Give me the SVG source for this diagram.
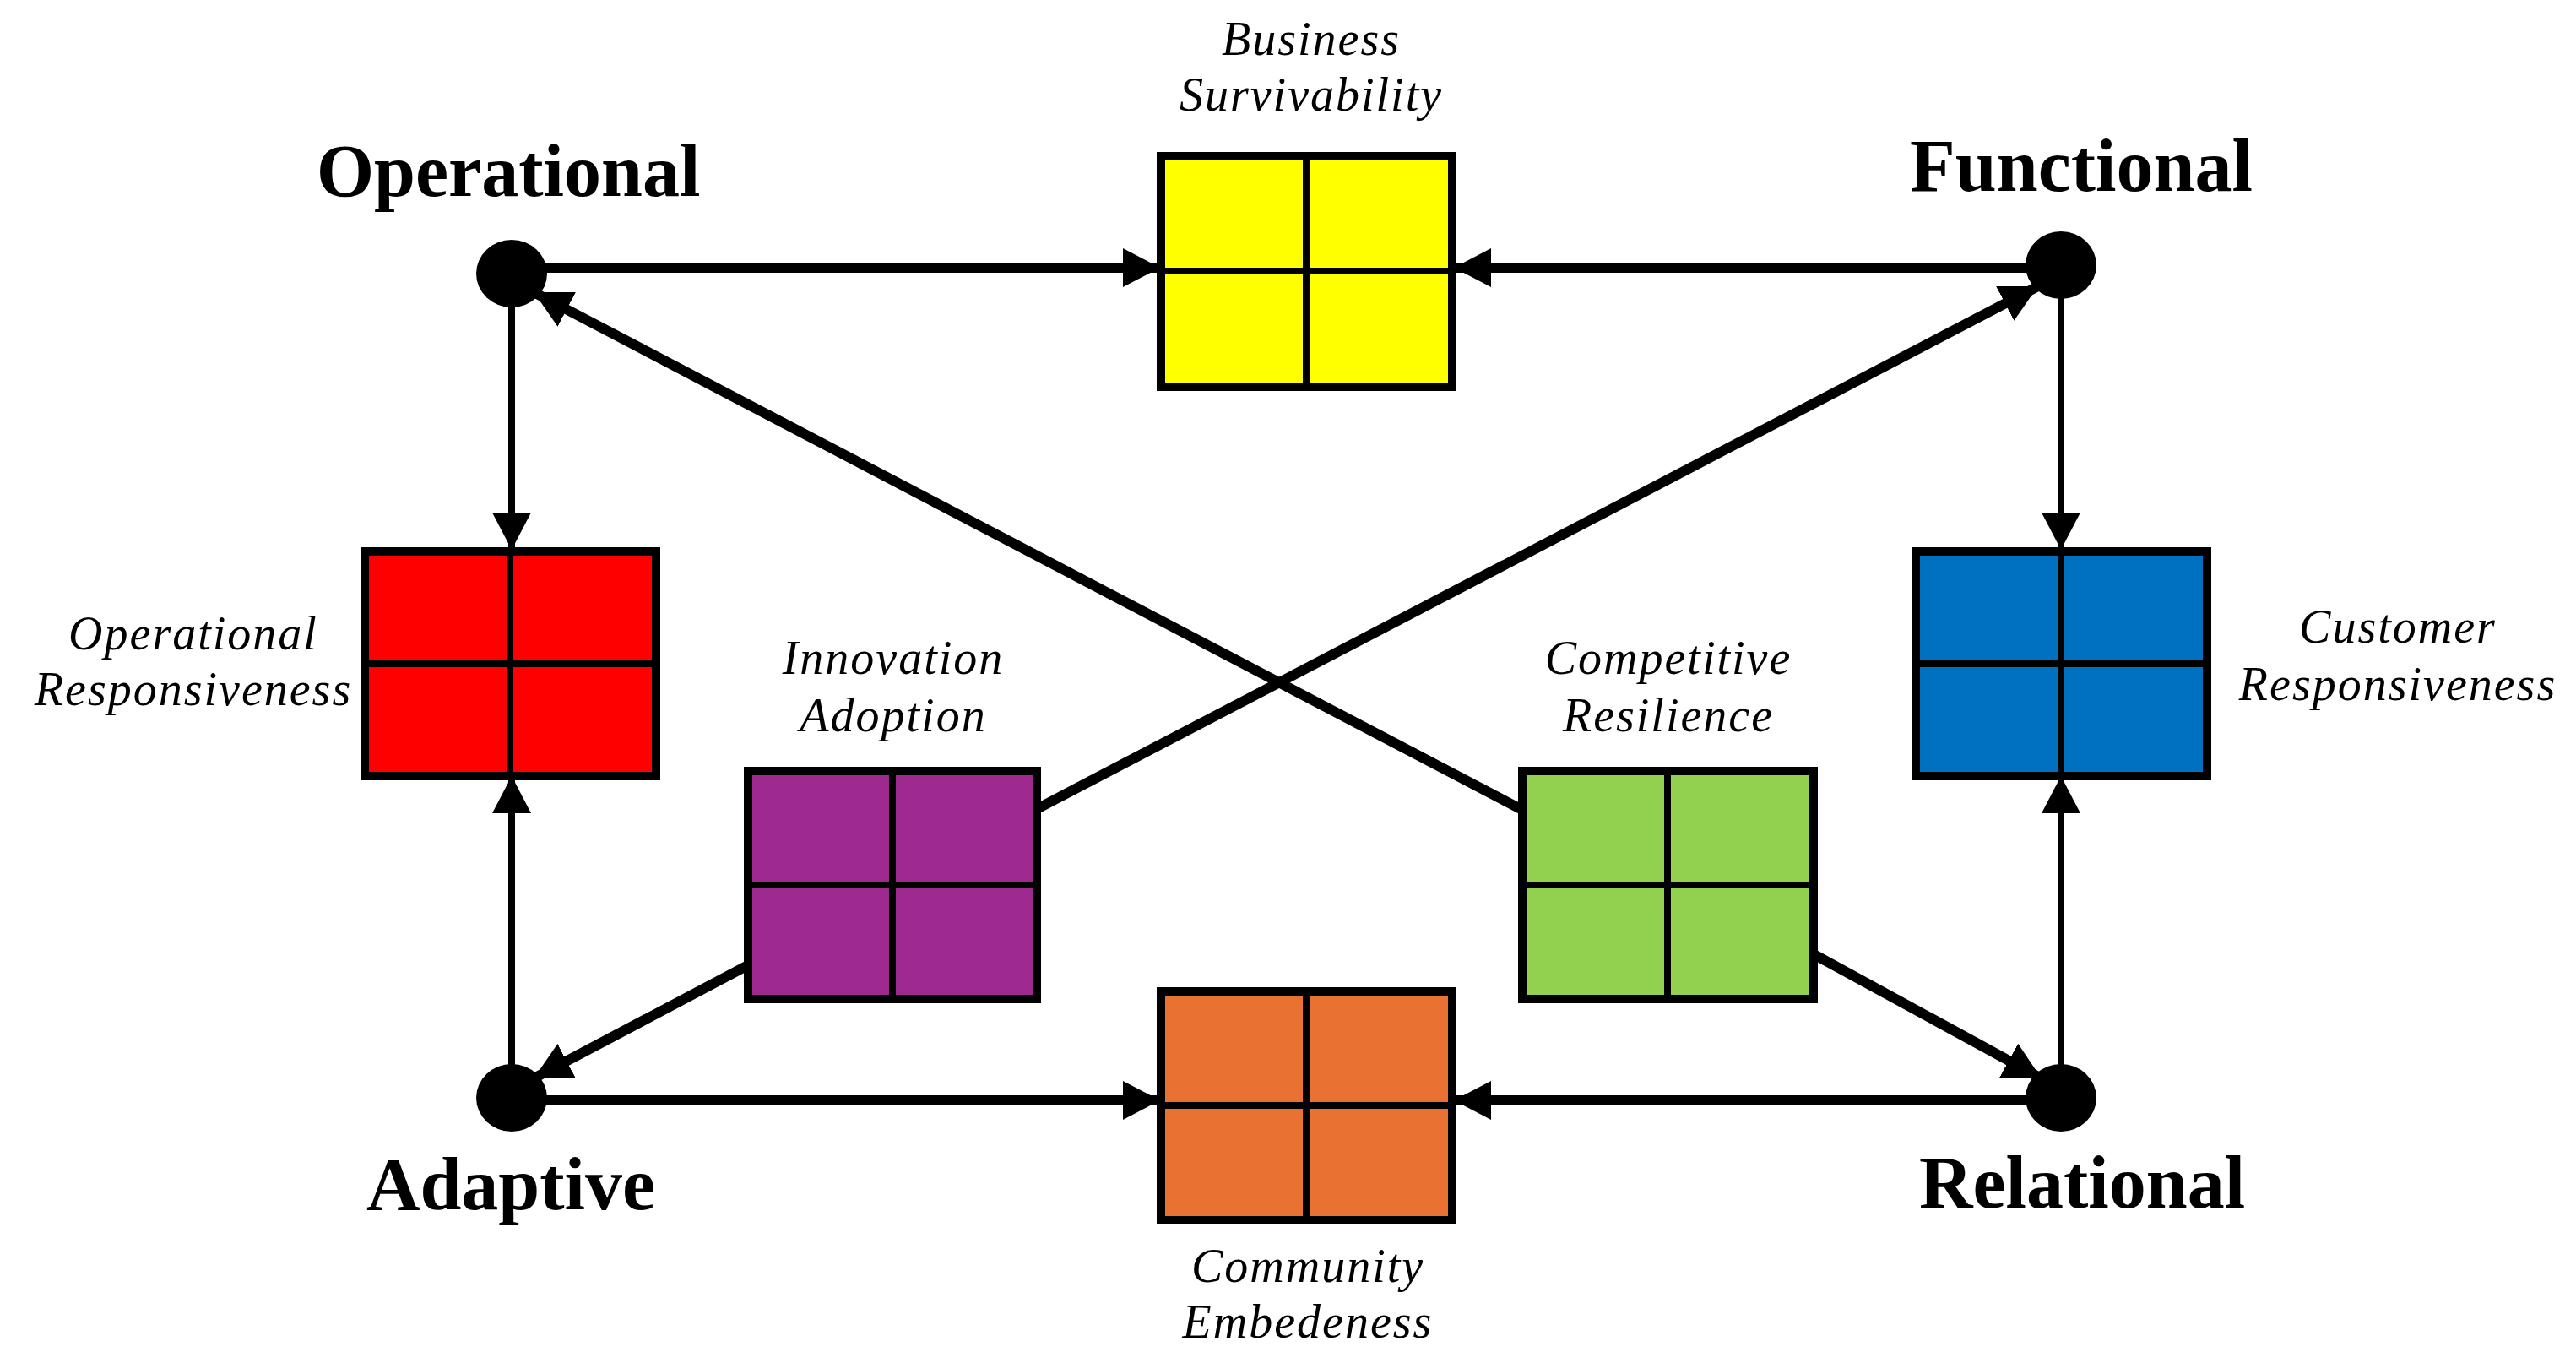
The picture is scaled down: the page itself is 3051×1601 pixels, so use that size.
<svg xmlns="http://www.w3.org/2000/svg" width="3051" height="1601" viewBox="0 0 3051 1601">
<style>
.b{stroke:#000;stroke-width:10}
.d{stroke:#000;stroke-width:8}
.t{font-family:"Liberation Serif",serif;font-weight:bold;font-size:88px;text-anchor:middle}
.i{font-family:"Liberation Serif",serif;font-style:italic;font-size:56px;letter-spacing:2px;text-anchor:middle}
.l{fill:none;stroke:#000}
</style>
<defs>
<marker id="a" markerUnits="userSpaceOnUse" markerWidth="44" markerHeight="46" refX="42" refY="23" orient="auto"><path d="M0,0 L44,23 L0,46 Z"/></marker>
</defs>
<rect width="3051" height="1601" fill="#fff"/>
<g id="connectors">
<line class="l" x1="640" y1="317" x2="1372" y2="317" stroke-width="12" marker-end="url(#a)"/>
<line class="l" x1="2420" y1="317" x2="1724" y2="317" stroke-width="12" marker-end="url(#a)"/>
<line class="l" x1="640" y1="1303" x2="1372" y2="1303" stroke-width="12" marker-end="url(#a)"/>
<line class="l" x1="2420" y1="1303" x2="1724" y2="1303" stroke-width="12" marker-end="url(#a)"/>
<line class="l" x1="606" y1="350" x2="606" y2="649" stroke-width="8" marker-end="url(#a)"/>
<line class="l" x1="606" y1="1280" x2="606" y2="921" stroke-width="8" marker-end="url(#a)"/>
<line class="l" x1="2441" y1="340" x2="2441" y2="649" stroke-width="8" marker-end="url(#a)"/>
<line class="l" x1="2441" y1="1280" x2="2441" y2="921" stroke-width="8" marker-end="url(#a)"/>
<line class="l" x1="1801" y1="958" x2="634" y2="347" stroke-width="12" marker-end="url(#a)"/>
<line class="l" x1="1228" y1="958" x2="2412" y2="340" stroke-width="12" marker-end="url(#a)"/>
<line class="l" x1="884" y1="1144" x2="634" y2="1276" stroke-width="12" marker-end="url(#a)"/>
<line class="l" x1="2150" y1="1131" x2="2416" y2="1276" stroke-width="12" marker-end="url(#a)"/>
</g>
<g id="operational"><ellipse cx="606" cy="324" rx="42" ry="40"/><text class="t" x="602" y="232">Operational</text></g>
<g id="functional"><ellipse cx="2441" cy="314" rx="42" ry="40"/><text class="t" x="2465" y="226">Functional</text></g>
<g id="adaptive"><ellipse cx="606" cy="1300" rx="42" ry="40"/><text class="t" x="605" y="1432">Adaptive</text></g>
<g id="relational"><ellipse cx="2441" cy="1300" rx="42" ry="40"/><text class="t" x="2466" y="1430">Relational</text></g>
<g id="business">
<rect class="b" x="1375" y="185" width="345" height="273" fill="#ffff00"/>
<line class="d" x1="1547" y1="185" x2="1547" y2="458"/><line class="d" x1="1375" y1="321" x2="1720" y2="321"/>
<text class="i" x="1553" y="65">Business</text><text class="i" x="1553" y="131">Survivability</text>
</g>
<g id="opresp">
<rect class="b" x="432" y="653" width="345" height="266" fill="#ff0000"/>
<line class="d" x1="604" y1="653" x2="604" y2="919"/><line class="d" x1="432" y1="786" x2="777" y2="786"/>
<text class="i" x="229" y="769">Operational</text><text class="i" x="229" y="835">Responsiveness</text>
</g>
<g id="custresp">
<rect class="b" x="2269" y="653" width="345" height="266" fill="#0070c0"/>
<line class="d" x1="2441" y1="653" x2="2441" y2="919"/><line class="d" x1="2269" y1="786" x2="2614" y2="786"/>
<text class="i" x="2840" y="761">Customer</text><text class="i" x="2840" y="829">Responsiveness</text>
</g>
<g id="innovation">
<rect class="b" x="886" y="913" width="342" height="270" fill="#9e2a90"/>
<line class="d" x1="1057" y1="913" x2="1057" y2="1183"/><line class="d" x1="886" y1="1048" x2="1228" y2="1048"/>
<text class="i" x="1058" y="798">Innovation</text><text class="i" x="1058" y="866">Adoption</text>
</g>
<g id="competitive">
<rect class="b" x="1803" y="913" width="345" height="270" fill="#92d050"/>
<line class="d" x1="1975" y1="913" x2="1975" y2="1183"/><line class="d" x1="1803" y1="1048" x2="2148" y2="1048"/>
<text class="i" x="1976" y="798">Competitive</text><text class="i" x="1976" y="866">Resilience</text>
</g>
<g id="community">
<rect class="b" x="1375" y="1174" width="345" height="271" fill="#e97132"/>
<line class="d" x1="1547" y1="1174" x2="1547" y2="1445"/><line class="d" x1="1375" y1="1309" x2="1720" y2="1309"/>
<text class="i" x="1549" y="1518">Community</text><text class="i" x="1549" y="1584">Embedeness</text>
</g>
</svg>
